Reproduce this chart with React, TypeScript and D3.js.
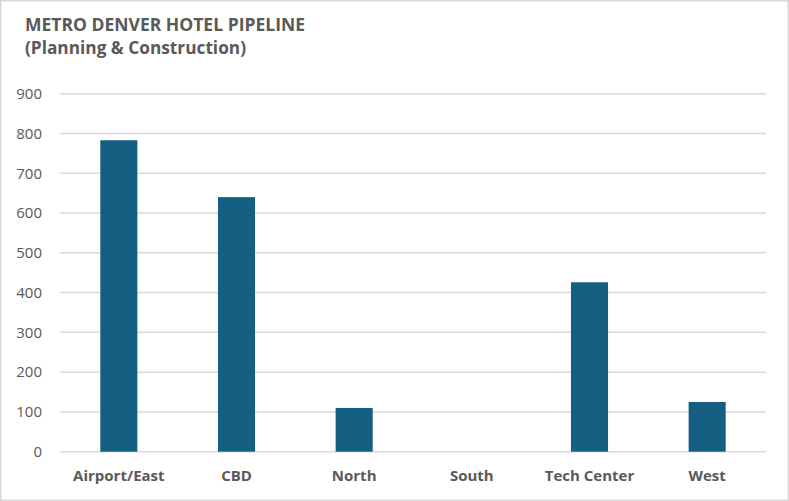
import React from "react";
import * as d3 from "d3";

const categories = ["Airport/East", "CBD", "North", "South", "Tech Center", "West"];
const values = [783, 640, 110, 0, 426, 125];
const yTicks = [0, 100, 200, 300, 400, 500, 600, 700, 800, 900];
const title = "METRO DENVER HOTEL PIPELINE";
const subtitle = "(Planning & Construction)";

const W = 789;
const H = 501;
const margin = { left: 60, right: 23, top: 93.7, bottom: 49.3 };

export default function App() {
  const x = d3
    .scaleBand<string>()
    .domain(categories)
    .range([margin.left, W - margin.right])
    .paddingInner(0.685)
    .paddingOuter(0.3425);
  const y = d3.scaleLinear().domain([0, 900]).range([H - margin.bottom, margin.top]);
  const font = "'Open Sans', Lato, sans-serif";
  return (
    <svg
      width={W}
      height={H}
      style={{ position: "fixed", top: 0, left: 0, background: "#fff" }}
    >
      <rect x={0.75} y={0.75} width={W - 1.5} height={H - 1.5} fill="#fff" stroke="#d9d9d9" strokeWidth={1.5} />
      <text x={25} y={31} fontFamily={font} fontWeight={700} fontSize={18.5} fill="#595959" textLength={280} lengthAdjust="spacingAndGlyphs">
        {title}
      </text>
      <text x={25} y={54} fontFamily={font} fontWeight={700} fontSize={18.5} fill="#595959" textLength={221} lengthAdjust="spacingAndGlyphs">
        {subtitle}
      </text>
      {yTicks.map((t) => (
        <g key={t}>
          <line x1={margin.left} x2={W - margin.right} y1={y(t)} y2={y(t)} stroke="#d9d9d9" strokeWidth={1.5} />
          <text x={42} y={y(t)} dy="0.35em" textAnchor="end" fontFamily={font} fontSize={15} fill="#595959">
            {t}
          </text>
        </g>
      ))}
      {categories.map((c, i) => (
        <rect
          key={c}
          x={x(c)}
          width={x.bandwidth()}
          y={y(values[i])}
          height={y(0) - y(values[i])}
          fill="#156082"
        />
      ))}
      {categories.map((c) => (
        <text
          key={c}
          x={(x(c) as number) + x.bandwidth() / 2}
          y={481}
          textAnchor="middle"
          fontFamily={font}
          fontWeight={700}
          fontSize={15}
          fill="#595959"
        >
          {c}
        </text>
      ))}
    </svg>
  );
}
